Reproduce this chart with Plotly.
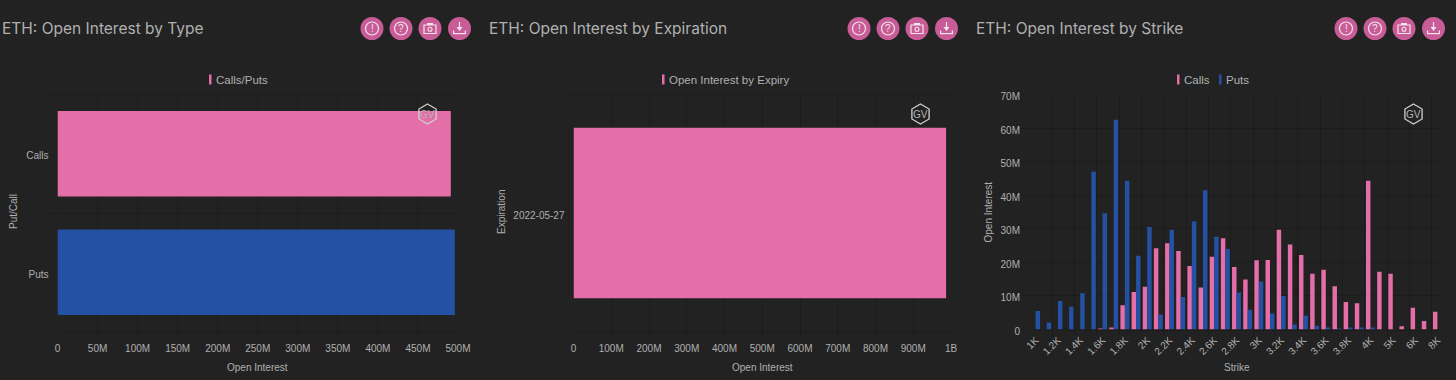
import plotly.graph_objects as go

W, H = 1456, 380
BG = "#222222"
PINK = "#E46EA7"
BLUE = "#2451A4"
TXT = "#b0b0b0"
GRID = "#1c1c1c"
ICON = "#C85C97"
GLYPH = "#f3e4ec"

type_cats = ["Puts", "Calls"]
type_vals = [496e6, 491e6]
expiry_cats = ["2022-05-27"]
expiry_vals = [987e6]
strikes = ["1K","1.1K","1.2K","1.3K","1.4K","1.5K","1.6K","1.7K","1.8K","1.9K","2K","2.1K","2.2K","2.3K","2.4K","2.5K","2.6K","2.7K","2.8K","2.9K","3K","3.1K","3.2K","3.3K","3.4K","3.5K","3.6K","3.7K","3.8K","3.9K","4K","4.5K","5K","5.5K","6K","7K","8K"]
calls = [0,0,0,0,0,0,0.1,0.5,7.2,11.2,12.7,24.2,25.7,23.4,18.9,12.5,21.7,27.2,18.6,14.9,20.6,20.7,29.7,25.3,22.2,16.6,17.8,12.9,8.2,7.8,44.3,17.2,16.6,1.0,6.5,2.5,5.3]
puts = [5.5,2.1,8.5,6.8,10.8,47,34.6,62.5,44.3,22,30.5,4.5,29.7,9.7,32.2,41.5,27.6,24,11,5.9,14.3,4.8,10,1.5,4.1,1.1,0.35,0.15,0.3,0.3,0.4,0,0,0,0,0,0]
calls = [v*1e6 for v in calls]
puts = [v*1e6 for v in puts]

px = lambda x: x / W
py = lambda y: 1 - y / H

fig = go.Figure()
fig.add_trace(go.Bar(y=type_cats, x=type_vals, orientation="h", marker=dict(color=[BLUE, PINK], line_width=0), width=0.72, xaxis="x", yaxis="y", showlegend=False))
fig.add_trace(go.Bar(y=expiry_cats, x=expiry_vals, orientation="h", marker=dict(color=PINK, line_width=0), width=0.72, xaxis="x2", yaxis="y2", showlegend=False))
fig.add_trace(go.Bar(x=strikes, y=calls, name="Calls", marker=dict(color=PINK, line_width=0), xaxis="x3", yaxis="y3", showlegend=False))
fig.add_trace(go.Bar(x=strikes, y=puts, name="Puts", marker=dict(color=BLUE, line_width=0), xaxis="x3", yaxis="y3", showlegend=False))

font = dict(family="Liberation Sans, Arial, sans-serif", size=10, color=TXT)
base = dict(showgrid=True, gridcolor=GRID, gridwidth=1, zeroline=False, tickfont=font, showline=False,
            ticks="outside", ticklen=5, tickcolor=GRID, tickwidth=1, automargin=False)

def xax(l, r, anchor, **kw):
    return dict(base, domain=[px(l), px(r)], anchor=anchor, **kw)
def yax(anchor, top, bot, standoff, **kw):
    return dict(base, domain=[py(bot), py(top)], anchor=anchor, ticklen=9, ticklabelstandoff=standoff, ticklabelshift=2, **kw)

m_ticks = [i*50e6 for i in range(11)]
m_text = ["0"] + [f"{i*50}M" for i in range(1, 11)]
b_ticks = [i*100e6 for i in range(11)]
b_text = ["0"] + [f"{i*100}M" for i in range(1, 10)] + ["1B"]

fig.update_layout(
    width=W, height=H, autosize=False,
    margin=dict(l=0, r=0, t=0, b=0),
    paper_bgcolor=BG, plot_bgcolor=BG,
    barmode="group", bargap=0.2, bargroupgap=0,
    xaxis=xax(57.5, 458, "y", range=[0, 500e6], tickvals=m_ticks, ticktext=m_text, ticklabelstandoff=2, showline=True, mirror=True, linecolor=GRID, linewidth=1),
    yaxis=yax("x", 94.5, 331.5, 8, type="category", categoryorder="array", categoryarray=type_cats, tickson="boundaries"),
    xaxis2=xax(573.5, 951, "y2", range=[0, 1000e6], tickvals=b_ticks, ticktext=b_text, ticklabelstandoff=2, showline=True, mirror=True, linecolor=GRID, linewidth=1),
    yaxis2=yax("x2", 94.5, 331.5, 8, type="category", tickson="boundaries"),
    xaxis3=xax(1030, 1443, "y3", type="category", categoryorder="array", categoryarray=strikes,
               tickson="boundaries", dtick=2, tick0=0, tickangle=-45, ticklabelstandoff=0, showline=True, linecolor=GRID, linewidth=1),
    yaxis3=yax("x3", 94.5, 329.5, -2, range=[0, 70e6], tickvals=[i*10e6 for i in range(8)], ticktext=["0"]+[f"{i*10}M" for i in range(1, 8)]),
    showlegend=False,
)

ann, shp = [], []
def text(x, y, s, size=10, color=TXT, anchor="center", angle=0, family=None):
    ann.append(dict(xref="paper", yref="paper", x=px(x), y=py(y), text=s, showarrow=False, xanchor=anchor, yanchor="middle",
                    textangle=angle, font=dict(size=size, color=color, family=family or font["family"])))

def pix_path(pts):
    return "M " + " L ".join(f"{px(a):.5f},{py(b):.5f}" for a, b in pts) + " Z"

def rect(x0, y0, x1, y1, c):
    shp.append(dict(type="rect", xref="paper", yref="paper", x0=px(x0), x1=px(x1), y0=py(y0), y1=py(y1), fillcolor=c, line_width=0, layer="above"))

def circle(cx, cy, r, fill, line=None, lw=0):
    shp.append(dict(type="circle", xref="paper", yref="paper", x0=px(cx-r), x1=px(cx+r), y0=py(cy-r), y1=py(cy+r),
                    fillcolor=fill, line=dict(width=lw, color=line or fill), layer="above"))

for x, s in [(0, "ETH: Open Interest by Type"), (487, "ETH: Open Interest by Expiration"), (974, "ETH: Open Interest by Strike")]:
    ann.append(dict(xref="paper", yref="paper", x=px(x), y=py(28.5), text=s, showarrow=False, xanchor="left", yanchor="middle",
                    font=dict(family="Inter, sans-serif", size=15.5, color=TXT)))

def icons(xs):
    for i, cx in enumerate(xs):
        circle(cx, 28.5, 11.5, ICON)
        if i == 0:
            circle(cx, 28.5, 6.5, ICON, GLYPH, 1.2)
            text(cx, 28.5, "!", 10, GLYPH)
        elif i == 1:
            circle(cx, 28.5, 6.5, ICON, GLYPH, 1.2)
            text(cx, 28.5, "?", 10, GLYPH)
        elif i == 2:
            shp.append(dict(type="rect", xref="paper", yref="paper", x0=px(cx-6), x1=px(cx+6), y0=py(25), y1=py(33.5), fillcolor=ICON, line=dict(color=GLYPH, width=1.2), layer="above"))
            rect(cx-3, 23, cx+3, 25, GLYPH)
            circle(cx, 29.2, 2, ICON, GLYPH, 1.1)
        else:
            rect(cx-6.5, 33, cx+6.5, 34.2, GLYPH)
            rect(cx-6.5, 30.5, cx-5.3, 34, GLYPH)
            rect(cx+5.3, 30.5, cx+6.5, 34, GLYPH)
            rect(cx-0.6, 22, cx+0.6, 28, GLYPH)
            shp.append(dict(type="path", xref="paper", yref="paper", path=pix_path([(cx-3, 27), (cx+3, 27), (cx, 31)]), fillcolor=GLYPH, line_width=0, layer="above"))
icons([372, 401, 430, 459.5])
icons([859, 888, 917, 946.5])
icons([1346, 1375, 1404, 1433.5])

def hexa(cx, cy, c="#d0d0d0"):
    r = 10
    pts = [(cx, cy-r), (cx+8.6, cy-r/2), (cx+8.6, cy+r/2), (cx, cy+r), (cx-8.6, cy+r/2), (cx-8.6, cy-r/2)]
    shp.append(dict(type="path", xref="paper", yref="paper", path=pix_path(pts), line=dict(color=c, width=1.3), layer="above"))
    text(cx, cy, "GV", 10, "#b5b5b5")
hexa(427.5, 114)
hexa(920.5, 114)
hexa(1413.5, 114)

# legends
rect(209, 74.5, 211.5, 84.5, PINK); text(214, 79.5, "Calls/Puts", 11.5, anchor="left")
rect(662, 74.5, 664.5, 84.5, PINK); text(667, 79.5, "Open Interest by Expiry", 11.5, anchor="left")
rect(1177, 74.5, 1179.5, 84.5, PINK); text(1182, 79.5, "Calls", 11.5, anchor="left")
rect(1219, 74.5, 1221.5, 84.5, BLUE); text(1224, 79.5, "Puts", 11.5, anchor="left")

# axis titles
text(257, 367, "Open Interest")
text(14, 212, "Put/Call", angle=-90)
text(762, 367, "Open Interest")
text(502, 212, "Expiration", angle=-90)
text(1237, 367, "Strike")
text(988.5, 212, "Open Interest", angle=-90)

fig.update_layout(annotations=ann, shapes=shp)
fig.write_html("out.html", config={"displayModeBar": False},
               post_script="document.body.style.margin='0';document.body.style.background='#222222';document.documentElement.style.overflow='hidden';")
